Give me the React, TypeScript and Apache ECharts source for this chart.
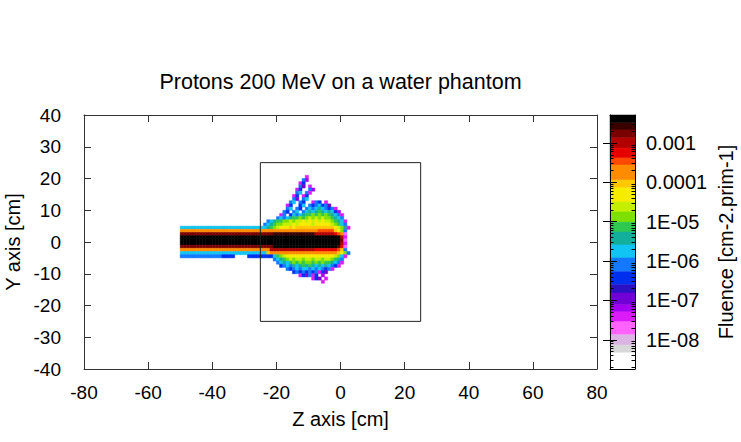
import React, { useEffect, useRef } from 'react';
import * as echarts from 'echarts';

const FONT = '"Liberation Sans", Arial, Helvetica, sans-serif';

const TITLE = 'Protons 200 MeV on a water phantom';
const X_NAME = 'Z axis [cm]';
const Y_NAME = 'Y axis [cm]';
const CB_NAME = 'Fluence [cm-2.prim-1]';

const X_MIN = -80;
const X_MAX = 80;
const X_STEP = 20;
const Y_MIN = -40;
const Y_MAX = 40;
const Y_STEP = 10;

// phantom outline (cm)
const PHANTOM_Z = [-25, 25, 25, -25, -25];
const PHANTOM_Y = [-25, -25, 25, 25, -25];

// colour bands of the colour bar, top (high) to bottom (low)
const LEVEL_KEYS = ['K', 'M', 'm', 'd', 'r', 'R', 'o', 'g', 'y', 'l', 'G', 'n', 't', 'c', 'b', 'B', 'v', 'p', 'i', 'x', 'k', 'L', 'w', 'W'];
const LEVEL_COLORS = [
  '#000000', '#3a0000', '#7a0000', '#b20000', '#e60000', '#ff4800', '#ff8c00', '#ffc800',
  '#f6ec00', '#c4f000', '#7ee000', '#2ec850', '#12b09c', '#10c4f4', '#1478ff', '#0030ee',
  '#2c10c4', '#7000d6', '#a400f2', '#dc1cf8', '#ff62ff', '#dcb4e4', '#d8d8d8', '#ffffff',
];
// log10(fluence) band edges, 25 values
const LEVEL_EDGES = [
  -2.29, -2.49, -2.67, -2.87, -3.13, -3.38, -3.56, -3.94, -4.14, -4.5, -4.75, -5.01, -5.26,
  -5.59, -5.92, -6.27, -6.6, -6.81, -7.11, -7.29, -7.54, -7.87, -8.13, -8.33, -8.74,
];
const CB_TICK_EXP = [-3, -4, -5, -6, -7, -8];
const CB_TICK_LABELS = ['0.001', '0.0001', '1E-05', '1E-06', '1E-07', '1E-08'];

// fluence map, 1 cm bins; row r covers y in [ROW_TOP_Y - r, ROW_TOP_Y - r + 1)
const ROW_TOP_Y = 20;
const AIR_Z0 = -50; // air segment starts at z = -50
const PHANTOM_Z0 = -25; // phantom segment starts at z = -25
const AIR_ROWS = [
  '', '', '', '', '', '', '', '', '', '', '', '', '', '', '', '', // y 20..5
  'ccccccccccccccccccccccccc', // 4
  'ooooooooooooooooooooooooo', // 3
  'mmmmmmmmmmmmmmmmmmmmmmmmm', // 2
  'KKKKKKKKKKKKKKKKKKKKKKKKK', // 1
  'KKKKKKKKKKKKKKKKKKKKKKKKK', // 0
  'KKKKKKKKKKKKKKKKKKKKKKKKK', // -1
  'mmmmmmmmmmmmmmmmmmmmmmmmm', // -2
  'ooooooooooooooooooooooooo', // -3
  'ccccccccccccccccccccccccc', // -4
  'bbbbbbbbbbbbbBBBB....BBBB', // -5
  '', '', '', '', '', '', '', '', // -6..-13
];
const PHANTOM_ROWS = [
  '..............x', // 20
  '.............bi', // 19
  '............xB', // 18
  '............bp.x', // 17
  '...........xB..bi', // 16
  '...........bc.bx', // 15
  '..........xB.xB', // 14
  '..........bp.bc', // 13
  '.........bc.bB..xbB.x', // 12
  '........xB..Bc.bBbcBbp', // 11
  '........bc.bB.bcbctcbBbx', // 10
  '.......bB.bc.bctctntctcBi', // 9
  '......xb.BcbctnnGnGnGntcbx', // 8
  '.....bcbctnnGnGlGlGlGGntcb', // 7
  '..bctnnGGlGllylylylyllGntcx', // 6
  '.bctnGGlllylyyyylyyyyylGncb', // 5
  'cctnGlyyygyggggggggggggylGtx', // 4
  'ooooooooooooooooooRRRRRgyGb', // 3
  'mmmmMMMMMMMMMMMMMddddddrRok', // 2
  'KKKKKKKKKKKKKKKKKKKKKKKKKdx', // 1
  'KKKKKKKKKKKKKKKKKKKKKKKKKmk', // 0
  'KKKKKKKKKKKKKKKKKKKKKKKKKdx', // -1
  'mmmmKKKKKKKKKKKKKKKKKKKKMrk', // -2
  'oooddddddddddddddrrrrrrrRgb', // -3
  'ccgooooooooooooooooooooogyGb', // -4
  'BBBBcnGlyyyyyyyyyyyyyyylGcx', // -5
  '....bctnGlGllGllGllGllGntb', // -6
  '.....bctcnGnGnGGnGnGnntcbx', // -7
  '......BbcbtctntntctctcbBx', // -8
  '........bBbcbccbcbcbBbx', // -9
  '..........BbBbBbBbxBp', // -10
  '............xBpbxB.i', // -11
  '................xBp.x', // -12
  '...................x', // -13
];

function buildCells(): number[][] {
  const out: number[][] = [];
  const add = (rows: string[], z0: number) => {
    rows.forEach((row, r) => {
      const y = ROW_TOP_Y - r;
      for (let i = 0; i < row.length; i++) {
        const k = LEVEL_KEYS.indexOf(row[i]);
        if (k < 0) continue;
        const v = (LEVEL_EDGES[k] + LEVEL_EDGES[k + 1]) / 2;
        out.push([z0 + i, y, v]);
      }
    });
  };
  add(AIR_ROWS, AIR_Z0);
  add(PHANTOM_ROWS, PHANTOM_Z0);
  return out;
}

function minorTicks(): number[] {
  const lo = LEVEL_EDGES[LEVEL_EDGES.length - 1];
  const hi = LEVEL_EDGES[0];
  const res: number[] = [];
  for (let n = -9; n <= -3; n++) {
    for (let m = 2; m <= 9; m++) {
      const v = n + Math.log10(m);
      if (v > lo && v < hi) res.push(v);
    }
  }
  return res;
}

const PLOT = { left: 84, top: 115, width: 513, height: 254 };
const CBAR = { left: 610, top: 115, width: 25, height: 254 };

export default function App() {
  const ref = useRef<HTMLDivElement>(null);
  useEffect(() => {
    if (!ref.current) return;
    const chart = echarts.init(ref.current, undefined, { renderer: 'svg' });
    const cells = buildCells();
    const minors = minorTicks();
    const frame = '#333333';
    const labelStyle = { fontSize: 19, color: '#000', fontFamily: FONT };
    const nameStyle = { fontSize: 20, color: '#000', fontFamily: FONT };
    const cbStyle = { fontSize: 20, color: '#000', fontFamily: FONT };

    const option: any = {
      animation: false,
      backgroundColor: '#ffffff',
      graphic: [
        {
          type: 'text',
          x: PLOT.left + PLOT.width / 2,
          y: 82,
          style: { text: TITLE, fontSize: 21.5, fontFamily: FONT, fill: '#000', align: 'center', verticalAlign: 'middle' },
        },
      ],
      grid: [
        { ...PLOT, show: false, containLabel: false, outerBoundsMode: 'none' },
        { ...CBAR, show: false, containLabel: false, outerBoundsMode: 'none' },
      ],
      visualMap: {
        type: 'piecewise',
        show: false,
        seriesIndex: 0,
        dimension: 2,
        pieces: LEVEL_COLORS.map((c, k) => ({ gt: LEVEL_EDGES[k + 1], lte: LEVEL_EDGES[k], color: c })),
      },
      xAxis: [
        {
          gridIndex: 0, type: 'value', min: X_MIN, max: X_MAX, interval: X_STEP, position: 'bottom',
          axisLine: { show: true, onZero: false, lineStyle: { color: frame, width: 1 } },
          axisTick: { show: true, inside: true, length: 7, lineStyle: { color: frame } },
          axisLabel: { ...labelStyle, margin: 14 },
          splitLine: { show: false },
          name: X_NAME, nameLocation: 'middle', nameGap: 40, nameTextStyle: { ...nameStyle },
        },
        {
          gridIndex: 0, type: 'value', min: X_MIN, max: X_MAX, interval: X_STEP, position: 'top',
          axisLine: { show: true, onZero: false, lineStyle: { color: frame, width: 1 } },
          axisTick: { show: true, inside: true, length: 7, lineStyle: { color: frame } },
          axisLabel: { show: false }, splitLine: { show: false },
        },
        {
          gridIndex: 1, type: 'value', min: 0, max: 1, position: 'bottom', z: 5,
          axisLine: { show: true, onZero: false, lineStyle: { color: '#000', width: 1 } },
          axisTick: { show: false }, axisLabel: { show: false }, splitLine: { show: false },
        },
        {
          gridIndex: 1, type: 'value', min: 0, max: 1, position: 'top', z: 5,
          axisLine: { show: true, onZero: false, lineStyle: { color: '#000', width: 1 } },
          axisTick: { show: false }, axisLabel: { show: false }, splitLine: { show: false },
        },
      ],
      yAxis: [
        {
          gridIndex: 0, type: 'value', min: Y_MIN, max: Y_MAX, interval: Y_STEP, position: 'left',
          axisLine: { show: true, onZero: false, lineStyle: { color: frame, width: 1 } },
          axisTick: { show: true, inside: true, length: 7, lineStyle: { color: frame } },
          axisLabel: { ...labelStyle, margin: 23 },
          splitLine: { show: false },
          name: Y_NAME, nameLocation: 'middle', nameGap: 51, nameRotate: 90, nameTextStyle: { ...nameStyle },
        },
        {
          gridIndex: 0, type: 'value', min: Y_MIN, max: Y_MAX, interval: Y_STEP, position: 'right',
          axisLine: { show: true, onZero: false, lineStyle: { color: frame, width: 1 } },
          axisTick: { show: true, inside: true, length: 7, lineStyle: { color: frame } },
          axisLabel: { show: false }, splitLine: { show: false },
        },
        {
          gridIndex: 1, type: 'value', min: LEVEL_EDGES[LEVEL_EDGES.length - 1], max: LEVEL_EDGES[0], position: 'right', z: 5,
          axisLine: { show: true, onZero: false, lineStyle: { color: '#000', width: 1 } },
          axisTick: { show: true, inside: true, length: 3.5, customValues: minors, lineStyle: { color: '#000' } },
          axisLabel: {
            ...cbStyle, margin: 11, customValues: CB_TICK_EXP,
            formatter: (v: number) => CB_TICK_LABELS[CB_TICK_EXP.indexOf(Math.round(v))] ?? '',
          },
          splitLine: { show: false },
          name: CB_NAME, nameLocation: 'middle', nameGap: 81, nameRotate: 90, nameTextStyle: { ...cbStyle },
        },
        {
          gridIndex: 1, type: 'value', min: LEVEL_EDGES[LEVEL_EDGES.length - 1], max: LEVEL_EDGES[0], position: 'left', z: 5,
          axisLine: { show: true, onZero: false, lineStyle: { color: '#000', width: 1 } },
          axisTick: { show: true, inside: true, length: 3.5, customValues: minors, lineStyle: { color: '#000' } },
          axisLabel: { show: false }, splitLine: { show: false },
        },
        {
          gridIndex: 1, type: 'value', min: LEVEL_EDGES[LEVEL_EDGES.length - 1], max: LEVEL_EDGES[0], position: 'right', z: 5,
          axisLine: { show: false },
          axisTick: { show: true, inside: true, length: 7, customValues: CB_TICK_EXP, lineStyle: { color: '#000' } },
          axisLabel: { show: false }, splitLine: { show: false },
        },
        {
          gridIndex: 1, type: 'value', min: LEVEL_EDGES[LEVEL_EDGES.length - 1], max: LEVEL_EDGES[0], position: 'left', z: 5,
          axisLine: { show: false },
          axisTick: { show: true, inside: true, length: 7, customValues: CB_TICK_EXP, lineStyle: { color: '#000' } },
          axisLabel: { show: false }, splitLine: { show: false },
        },
      ],
      series: [
        {
          type: 'custom',
          xAxisIndex: 0,
          yAxisIndex: 0,
          data: cells,
          encode: { x: 0, y: 1 },
          z: 2,
          renderItem: (_p: any, api: any) => {
            const z = api.value(0);
            const y = api.value(1);
            const a = api.coord([z, y + 1]);
            const b = api.coord([z + 1, y]);
            const col = api.visual('color');
            return {
              type: 'rect',
              shape: { x: a[0], y: a[1], width: b[0] - a[0], height: b[1] - a[1] },
              style: { fill: col, stroke: col, lineWidth: 0.5 },
            };
          },
        },
        {
          type: 'line',
          xAxisIndex: 0,
          yAxisIndex: 0,
          data: PHANTOM_Z.map((z, i) => [z, PHANTOM_Y[i]]),
          symbol: 'none',
          z: 4,
          lineStyle: { color: '#222', width: 1 },
          silent: true,
        },
        {
          type: 'custom',
          xAxisIndex: 2,
          yAxisIndex: 2,
          z: 1,
          data: LEVEL_COLORS.map((_c, k) => [0, LEVEL_EDGES[k + 1], LEVEL_EDGES[k], k]),
          renderItem: (_p: any, api: any) => {
            const a = api.coord([0, api.value(2)]);
            const b = api.coord([1, api.value(1)]);
            const col = LEVEL_COLORS[api.value(3)];
            return {
              type: 'rect',
              shape: { x: a[0], y: a[1], width: b[0] - a[0], height: b[1] - a[1] },
              style: { fill: col, stroke: col, lineWidth: 0.5 },
            };
          },
        },
      ],
    };
    chart.setOption(option);
    return () => chart.dispose();
  }, []);
  return (
    <div
      ref={ref}
      style={{ position: 'fixed', left: 0, top: 0, width: 741, height: 442, background: '#fff' }}
    />
  );
}
